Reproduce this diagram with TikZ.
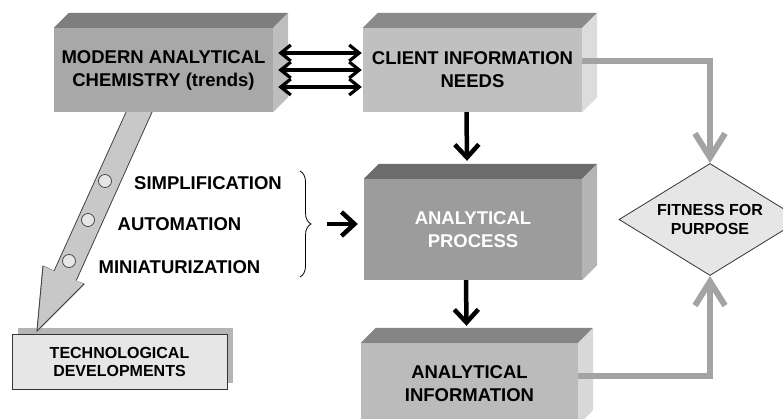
\documentclass[tikz,border=0pt]{standalone}
\usepackage{fontspec}
\setmainfont{Liberation Sans}
\usepackage{tikz}
\usetikzlibrary{
	arrows.meta,shapes.geometric,shadows,decorations.pathreplacing
}

\definecolor{modfront}{HTML}{A8A8A8}
\definecolor{modtop}{HTML}{7E7E7E}
\definecolor{modside}{HTML}{BEBEBE}
\definecolor{clifront}{HTML}{C0C0C0}
\definecolor{clitop}{HTML}{8A8A8A}
\definecolor{cliside}{HTML}{DCDCDC}
\definecolor{profront}{HTML}{9C9C9C}
\definecolor{protop}{HTML}{6C6C6C}
\definecolor{proside}{HTML}{B4B4B4}
\definecolor{infofront}{HTML}{BBBBBB}
\definecolor{infotop}{HTML}{858585}
\definecolor{infoside}{HTML}{D8D8D8}
\definecolor{arrowgray}{HTML}{A3A3A3}
\definecolor{palegray}{HTML}{E6E6E6}
\definecolor{shadowgray}{HTML}{B5B5B5}
\definecolor{bandgray}{HTML}{C8C8C8}

\tikzset{
	face/.style={minimum width=219pt,minimum height=84pt,inner sep=0pt,
		align=center,font=\fontsize{18.5}{23}\selectfont\bfseries},
	tag/.style={inner sep=0pt,font=\fontsize{18.5}{23}\selectfont\bfseries},
	blk/.style={line width=4.5pt,-{Straight Barb[length=13pt,width=24pt]}},
	dbl/.style={line width=3.2pt,
		{Straight Barb[length=10pt,width=16pt]}-{Straight Barb[length=10pt,width=16pt]}},
	gry/.style={line width=6pt,draw=arrowgray,-{Straight Barb[length=24pt,width=30pt]}}
}

% top and side of a box: node, top colour, side colour
\newcommand{\slab}[3]{%
	\fill[#2] (#1.north west) -- ++(15pt,15pt) -- ([shift={(15pt,15pt)}]#1.north east) -- (#1.north east) -- cycle;
	\fill[#3] (#1.north east) -- ([shift={(15pt,15pt)}]#1.north east) -- ([shift={(15pt,15pt)}]#1.south east) -- (#1.south east) -- cycle;}

\begin{document}
\begin{tikzpicture}[x=1pt,y=-1pt]
		\useasboundingbox (0,0) rectangle (783,419);

		% trends arrow
		\draw[fill=bandgray,draw=black!75,line width=0.8pt]
			(127,110) -- (54,271) -- (43,266) -- (37,331) -- (84,284) -- (76,281) -- (153,110);
		\foreach \cx/\cy in {105/181,88/220,69/261}
			\draw[fill=palegray,draw=black!75,line width=0.7pt] (\cx,\cy) circle (6.5pt);

		\node[face,fill=modfront] (modern) at (163.5,70) {MODERN ANALYTICAL\\CHEMISTRY (trends)};
		\slab{modern}{modtop}{modside}
		\node[face,fill=clifront] (client) at (472.5,70) {CLIENT INFORMATION\\NEEDS};
		\slab{client}{clitop}{cliside}
		\node[face,fill=profront,text=white,minimum width=218pt,minimum height=101pt] (process) at (473,229.5) {ANALYTICAL\\PROCESS};
		\slab{process}{protop}{proside}
		\node[face,fill=infofront,minimum width=217pt,minimum height=82pt] (info) at (469.5,384) {ANALYTICAL\\INFORMATION};
		\slab{info}{infotop}{infoside}

		\node[diamond,draw=black!80,line width=0.8pt,fill=palegray,aspect=1.625,
			minimum width=182pt,minimum height=112pt,inner sep=0pt,align=center,
			font=\fontsize{16}{19}\selectfont\bfseries] (fitness) at (710,219.5) {FITNESS FOR\\PURPOSE};

		\node[draw=black!80,line width=1pt,fill=palegray,minimum width=215pt,minimum height=55pt,
			inner sep=0pt,align=center,font=\fontsize{16}{18}\selectfont\bfseries,
			drop shadow={shadow xshift=6pt,shadow yshift=6pt,fill=shadowgray,opacity=1}] (tech) at (119.5,361.5) {TECHNOLOGICAL\\DEVELOPMENTS};
		\draw[fill=bandgray,draw=black!75,line width=0.8pt]
			(43,266) -- (37,331) -- (84,284);

		\node[tag] (simp) at (208,183) {SIMPLIFICATION};
		\node[tag] (auto) at (179.5,224) {AUTOMATION};
		\node[tag] (mini) at (179.5,267) {MINIATURIZATION};

		\coordinate (bracetop) at (300,171);
		\coordinate (bracebot) at (300,277);
		\coordinate (bracetip) at (327,224);
		\draw[decorate,decoration={brace,amplitude=11pt},line width=0.8pt] (bracetop) -- (bracebot);
		%
		\foreach \dy in {17,0,-17}
			\draw[dbl] ([xshift=5pt,yshift=\dy pt]modern.east) -- ([xshift=-1pt,yshift=\dy pt]client.west);
		\draw[blk] ([xshift=-6pt]client.south) -- ([xshift=-6pt,yshift=18pt]process.north);
		\draw[blk] ([xshift=-7pt]process.south) -- ([xshift=-3pt,yshift=17pt]info.north);
		\draw[blk,shorten >=6pt] (bracetip) -- (bracetip -| process.west);

		\draw[gry] ([yshift=9pt]client.east) -| (fitness.north);
		\draw[gry] ([yshift=8pt]info.east) -| (fitness.south);

	\end{tikzpicture}
\end{document}
